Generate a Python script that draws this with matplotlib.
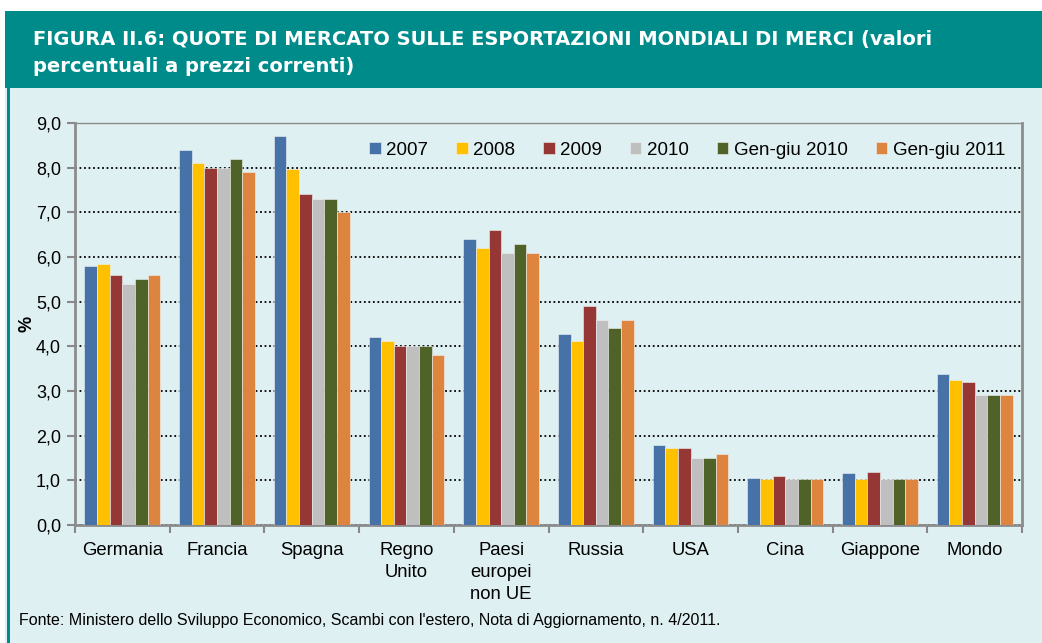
import matplotlib
matplotlib.use('Agg')
import matplotlib.pyplot as plt
import numpy as np
from matplotlib.patches import Rectangle

# ---------------- DATA ----------------
categories = ['Germania', 'Francia', 'Spagna', 'Regno\nUnito', 'Paesi\neuropei\nnon UE',
              'Russia', 'USA', 'Cina', 'Giappone', 'Mondo']
series_names = ['2007', '2008', '2009', '2010', 'Gen-giu 2010', 'Gen-giu 2011']
v2007 = [5.8, 8.4, 8.7, 4.2, 6.4, 4.27, 1.8, 1.06, 1.17, 3.37]
v2008 = [5.85, 8.1, 7.97, 4.11, 6.2, 4.11, 1.73, 1.02, 1.04, 3.25]
v2009 = [5.6, 8.0, 7.4, 4.0, 6.6, 4.9, 1.72, 1.1, 1.19, 3.2]
v2010 = [5.4, 8.0, 7.3, 4.0, 6.1, 4.6, 1.49, 1.02, 1.04, 2.9]
vgg2010 = [5.5, 8.2, 7.3, 4.0, 6.3, 4.4, 1.49, 1.02, 1.04, 2.9]
vgg2011 = [5.6, 7.9, 7.0, 3.8, 6.1, 4.6, 1.6, 1.02, 1.04, 2.9]
colors = ['#4672A8', '#FFC000', '#953735', '#BFBFBF', '#4F6228', '#DD843E']

title = ('FIGURA II.6: QUOTE DI MERCATO SULLE ESPORTAZIONI MONDIALI DI MERCI (valori\n'
         'percentuali a prezzi correnti)')
source = "Fonte: Ministero dello Sviluppo Economico, Scambi con l'estero, Nota di Aggiornamento, n. 4/2011."

TEAL = '#008B8B'
BG = '#DFF0F2'
W, H = 1042, 643

plt.rcParams['font.family'] = ['Liberation Sans', 'DejaVu Sans']

fig = plt.figure(figsize=(W / 100, H / 100), dpi=100)
fig.patch.set_facecolor('white')

# background panels (behind the axes)
fig.patches.append(Rectangle((5 / W, 0), 1, (H - 88) / H, transform=fig.transFigure,
                             facecolor=BG, edgecolor='none', zorder=-2))
fig.patches.append(Rectangle((5 / W, (H - 88) / H), 1, 77 / H, transform=fig.transFigure,
                             facecolor=TEAL, edgecolor='none', zorder=-2))
fig.patches.append(Rectangle((7 / W, 0), 3 / W, (H - 88) / H, transform=fig.transFigure,
                             facecolor=TEAL, edgecolor='none', zorder=-2))

fig.text(33 / W, (H - 53) / H, title, color='white', fontsize=14, fontweight='bold',
         va='center', ha='left', linespacing=1.6, family=['DejaVu Sans'])

ax = fig.add_axes([75 / W, (H - 525) / H, (1022 - 75) / W, (525 - 123) / H])
ax.set_facecolor(BG)

data = [v2007, v2008, v2009, v2010, vgg2010, vgg2011]
x = np.arange(len(categories))
bw = 0.8 / len(series_names)
for i, (name, vals) in enumerate(zip(series_names, data)):
    ax.bar(x - 0.4 + bw * (i + 0.5), vals, width=bw, color=colors[i], label=name,
           edgecolor='#F2F2F2', linewidth=0.4, zorder=3)

ax.set_xlim(-0.5, len(categories) - 0.5)
ax.set_ylim(0, 9)
ax.set_yticks(np.arange(0, 10, 1))
ax.set_yticklabels([f'{v:.1f}'.replace('.', ',') for v in np.arange(0, 10, 1)], fontsize=13)
ax.yaxis.grid(True, color='black', linestyle=(0, (1, 1.5)), linewidth=1.3, zorder=1)
ax.set_axisbelow(True)

ax.set_xticks(x)
ax.set_xticklabels(categories, fontsize=13.3, linespacing=1.4)
ax.tick_params(axis='x', length=0, pad=12)
ax.set_xticks(np.arange(-0.5, len(categories), 1), minor=True)
ax.tick_params(axis='x', which='minor', length=6, color='#888888', width=1.5)
ax.tick_params(axis='y', length=6, color='#888888', width=1.5, pad=4)

for s in ['left', 'bottom', 'right', 'top']:
    ax.spines[s].set_color('#8C8C8C')
    ax.spines[s].set_linewidth(2)
ax.spines['top'].set_linewidth(1)

ax.set_ylabel('%', fontsize=13, fontweight='bold')
ax.yaxis.set_label_coords(-0.042, 0.5)

ax.legend(loc='upper right', ncol=6, frameon=False, fontsize=13.5,
          handlelength=0.6, handleheight=0.6, handletextpad=0.3, columnspacing=1.5,
          bbox_to_anchor=(1.0, 0.995))

fig.text(19 / W, (H - 621) / H, source, fontsize=11.5, va='center', ha='left')

fig.savefig('out.png', dpi=100)
